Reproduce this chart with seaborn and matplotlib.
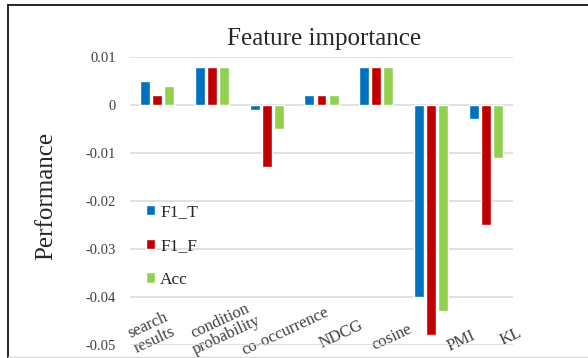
import matplotlib
matplotlib.use("Agg")
import matplotlib.pyplot as plt
from matplotlib.lines import Line2D
from matplotlib.transforms import ScaledTranslation
import seaborn as sns
import pandas as pd

# Feature ablation results
features = ["search\nresults", "condition\nprobability", "co-occurrence",
            "NDCG", "cosine", "PMI", "KL"]
f1_t = [0.005, 0.008, -0.001, 0.002, 0.008, -0.040, -0.003]
f1_f = [0.002, 0.008, -0.013, 0.002, 0.008, -0.048, -0.025]
acc = [0.004, 0.008, -0.005, 0.002, 0.008, -0.043, -0.011]
metrics = ["F1_T", "F1_F", "Acc"]
y_ticks = [0.01, 0, -0.01, -0.02, -0.03, -0.04, -0.05]
y_tick_labels = ["0.01", "0", "-0.01", "-0.02", "-0.03", "-0.04", "-0.05"]

df = pd.DataFrame({
    "feature": features * 3,
    "metric": [m for m in metrics for _ in features],
    "value": f1_t + f1_f + acc,
})

sns.set_theme(style="white")
plt.rcParams["font.family"] = ["Liberation Serif", "DejaVu Serif"]

W, H = 588, 358
fig = plt.figure(figsize=(W / 100, H / 100), dpi=100)
ax = fig.add_axes([130 / W, (H - 345) / H, 383 / W, 288 / H])

palette = {"F1_T": "#0070C0", "F1_F": "#C00000", "Acc": "#92D050"}
sns.barplot(data=df, x="feature", y="value", hue="metric", order=features,
            hue_order=metrics, palette=palette, saturation=1, width=0.66,
            gap=0.17, ax=ax, errorbar=None)

ax.set_ylim(-0.05, 0.01)
ax.set_xlim(-0.5, len(features) - 0.5)
ax.set_yticks(y_ticks)
ax.set_yticklabels(y_tick_labels)
ax.yaxis.grid(True, color="#D9D9D9", linewidth=1.1)
ax.set_axisbelow(True)
for s in ax.spines.values():
    s.set_visible(False)

ax.tick_params(axis="y", length=0, pad=10, labelsize=10.5, labelcolor="#404040")
ax.tick_params(axis="x", length=0, pad=0, labelsize=12, labelcolor="#404040")

ax.set_xlabel("")
ax.set_ylabel("Performance", fontsize=18, color="#262626")
ax.yaxis.set_label_coords(-0.19, 0.517)
ax.set_title("Feature importance", fontsize=18, color="#262626",
             x=0.507, pad=9)

# Category labels: slanted and nudged into the lower band of the plot
shift_x = [-6, 11, 19, 20, 16, 30, 25]
shift_y = [12, 17, 14, 11, 8, 4, 8]
for lab, dx, dy in zip(ax.get_xticklabels(), shift_x, shift_y):
    lab.set_rotation(25)
    lab.set_rotation_mode("anchor")
    lab.set_ha("center")
    lab.set_va("center")
    lab.set_multialignment("center")
    lab.set_linespacing(1.0)
    lab.set_transform(lab.get_transform() +
                      ScaledTranslation(dx / 100, dy / 100, fig.dpi_scale_trans))

leg = ax.legend(loc="center left", bbox_to_anchor=(146 / W, 1 - 246 / H),
                bbox_transform=fig.transFigure, frameon=False, fontsize=12.5,
                handlelength=0.52, handleheight=0.52, handletextpad=0.3,
                labelspacing=1.02, borderpad=0, borderaxespad=0)
for t in leg.get_texts():
    t.set_color("#262626")

# Chart frame
fig.add_artist(Line2D([8 / W, 1], [1 - 5 / H, 1 - 5 / H], color="black",
                      linewidth=1.2, transform=fig.transFigure))
fig.add_artist(Line2D([8 / W, 8 / W], [0, 1 - 5 / H], color="black",
                      linewidth=1.2, transform=fig.transFigure))
fig.add_artist(Line2D([8 / W, 1], [1.5 / H, 1.5 / H], color="#D9D9D9",
                      linewidth=1.0, transform=fig.transFigure))

fig.savefig("out.png", dpi=100, facecolor="white")
